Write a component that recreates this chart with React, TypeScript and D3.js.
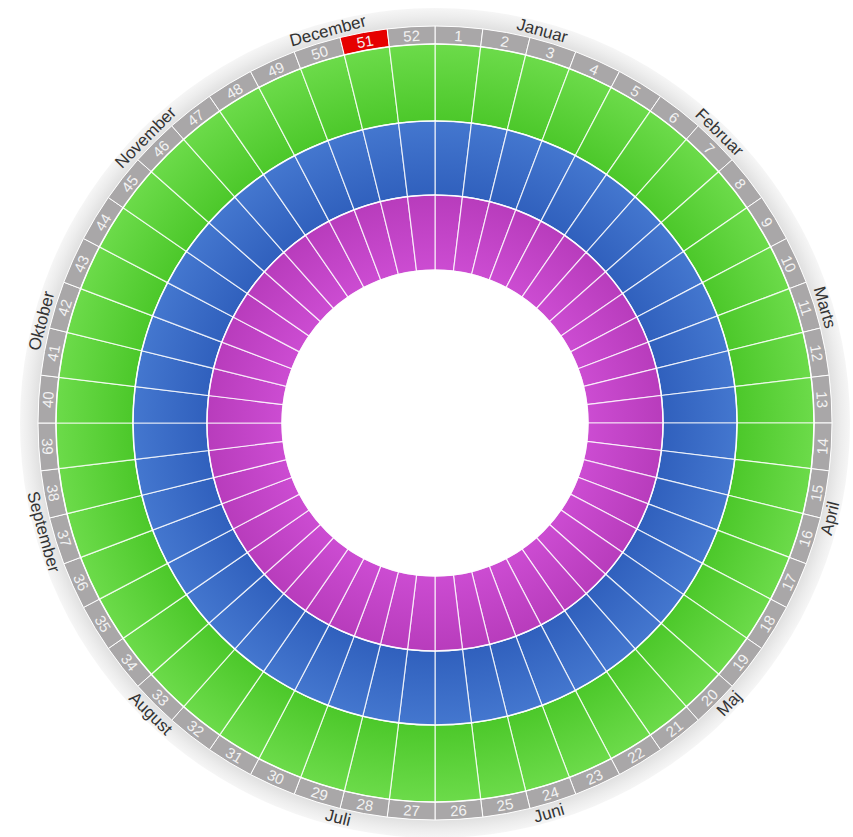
import React from "react";
import * as d3 from "d3";

const weeks: number[] = [
  1, 2, 3, 4, 5, 6, 7, 8, 9, 10, 11, 12, 13, 14, 15, 16, 17, 18, 19, 20, 21, 22, 23, 24, 25, 26,
  27, 28, 29, 30, 31, 32, 33, 34, 35, 36, 37, 38, 39, 40, 41, 42, 43, 44, 45, 46, 47, 48, 49, 50, 51, 52,
];
const highlightWeek = 51;
const monthNames: string[] = [
  "Januar", "Februar", "Marts", "April", "Maj", "Juni",
  "Juli", "August", "September", "Oktober", "November", "December",
];
// mid-month day of year
const monthMidDays: number[] = [15.5, 45, 74.5, 105, 135.5, 166, 196.5, 227.5, 258, 288.5, 319, 349.5];
const ringNames: string[] = ["outer", "middle", "inner"];
const ringColorsIn: string[] = ["#4cc82a", "#3060bd", "#cc4cd2"];
const ringColorsOut: string[] = ["#6cdb4a", "#4477cf", "#b83cbc"];

const W = 853;
const H = 837;
const cx = 435;
const cy = 423;
const ringRadii: [number, number][] = [
  [302, 379],
  [228, 302],
  [153, 228],
];
const weekRingIn = 379;
const weekRingOut = 397;
const monthRingOut = 415;

export default function App() {
  const angle = d3.scaleLinear().domain([0, weeks.length]).range([0, 2 * Math.PI]);
  const dayAngle = d3.scaleLinear().domain([0, 365]).range([0, 360]);

  const arcGen = d3.arc<any>();

  const place = (deg: number, r: number) => {
    const a = (deg * Math.PI) / 180;
    const x = cx + r * Math.sin(a);
    const y = cy - r * Math.cos(a);
    const norm = ((deg % 360) + 360) % 360;
    const rot = norm > 90 && norm < 270 ? norm - 180 : norm;
    return `translate(${x},${y}) rotate(${rot})`;
  };

  return (
    <svg
      width={W}
      height={H}
      style={{ position: "absolute", left: 0, top: 0, background: "#fff" }}
      fontFamily="'Liberation Sans', Arial, sans-serif"
    >
      <defs>
        {ringNames.map((n, i) => (
          <radialGradient
            key={n}
            id={`grad-${n}`}
            gradientUnits="userSpaceOnUse"
            cx={0}
            cy={0}
            r={ringRadii[i][1]}
          >
            <stop offset={ringRadii[i][0] / ringRadii[i][1]} stopColor={ringColorsIn[i]} />
            <stop offset={1} stopColor={ringColorsOut[i]} />
          </radialGradient>
        ))}
        <radialGradient id="grad-month" gradientUnits="userSpaceOnUse" cx={0} cy={0} r={monthRingOut}>
          <stop offset={weekRingOut / monthRingOut} stopColor="#e0e0e0" />
          <stop offset={0.98} stopColor="#ededed" />
          <stop offset={1} stopColor="#f6f6f6" />
        </radialGradient>
      </defs>

      <g transform={`translate(${cx},${cy})`}>
        {/* outer month ring */}
        <path
          d={arcGen({ innerRadius: weekRingOut, outerRadius: monthRingOut, startAngle: 0, endAngle: 2 * Math.PI }) || ""}
          fill="url(#grad-month)"
        />

        {/* week cells */}
        {weeks.map((w, i) => (
          <path
            key={w}
            d={
              arcGen({
                innerRadius: weekRingIn,
                outerRadius: weekRingOut,
                startAngle: angle(i),
                endAngle: angle(i + 1),
              }) || ""
            }
            fill={w === highlightWeek ? "#e60000" : "#a9a7a8"}
            stroke="#ffffff"
            strokeWidth={1}
          />
        ))}

        {/* data rings */}
        {ringNames.map((n, ri) => (
          <g key={n}>
            {weeks.map((w, i) => (
              <path
                key={w}
                d={
                  arcGen({
                    innerRadius: ringRadii[ri][0],
                    outerRadius: ringRadii[ri][1],
                    startAngle: angle(i),
                    endAngle: angle(i + 1),
                  }) || ""
                }
                fill={`url(#grad-${n})`}
                stroke="rgba(255,255,255,0.8)"
                strokeWidth={1.2}
              />
            ))}
          </g>
        ))}

        {/* ring boundary circles */}
        {[weekRingIn, ...ringRadii.map((r) => r[0])].map((r, i) => (
          <circle key={i} cx={0} cy={0} r={r} fill="none" stroke="rgba(255,255,255,0.85)" strokeWidth={1.5} />
        ))}
      </g>

      {/* week labels */}
      {weeks.map((w, i) => {
        const deg = ((angle(i) + angle(i + 1)) / 2) * (180 / Math.PI);
        return (
          <text
            key={w}
            transform={place(deg, (weekRingIn + weekRingOut) / 2)}
            textAnchor="middle"
            dominantBaseline="central"
            fontSize={15}
            fill="#f2f2f2"
          >
            {w}
          </text>
        );
      })}

      {/* month labels */}
      {monthNames.map((m, i) => (
        <text
          key={m}
          transform={place(dayAngle(monthMidDays[i]), (weekRingOut + monthRingOut) / 2 + 0.5)}
          textAnchor="middle"
          dominantBaseline="central"
          fontSize={17}
          fill="#333333"
        >
          {m}
        </text>
      ))}
    </svg>
  );
}
